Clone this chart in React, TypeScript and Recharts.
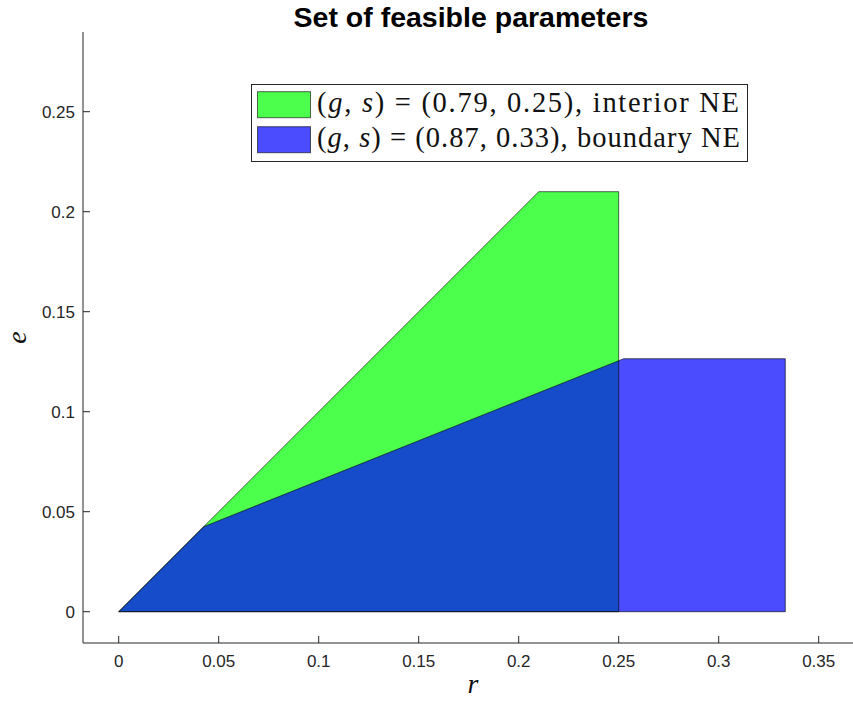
import React from 'react';
import { ComposedChart, Area, Line, XAxis, YAxis, Legend, Label } from 'recharts';

const xTicks = [0, 0.05, 0.1, 0.15, 0.2, 0.25, 0.3, 0.35];
const yTicks = [0, 0.05, 0.1, 0.15, 0.2, 0.25];

// Interior NE region (g, s) = (0.79, 0.25)
const interiorRegion = [
  { r: 0, e: 0 },
  { r: 0.21, e: 0.21 },
  { r: 0.25, e: 0.21 },
  { r: 0.25, e: 0 },
];
// Boundary NE region (g, s) = (0.87, 0.33)
const boundaryRegion = [
  { r: 0, e: 0 },
  { r: 0.0425, e: 0.0425 },
  { r: 0.2525, e: 0.1265 },
  { r: 0.3333, e: 0.1265 },
  { r: 0.3333, e: 0 },
];
const interiorOutline = [...interiorRegion, { r: 0, e: 0 }];
const boundaryOutline = [...boundaryRegion, { r: 0, e: 0 }];

const legendItems = [
  { g: '0.79', s: '0.25', kind: 'interior NE', fill: '#00ff00' },
  { g: '0.87', s: '0.33', kind: 'boundary NE', fill: '#0000ff' },
];

const AXIS = '#262626';
const SANS = '"Liberation Sans", Arial, Helvetica, sans-serif';
const SERIF = '"Liberation Serif", "Times New Roman", serif';

const fmt = (v: number) => String(Number(v.toFixed(2)));

const LegendBox = () => (
  <svg width={497} height={79} style={{ display: 'block' }}>
    <rect x={0.5} y={0.5} width={496} height={77} fill="#fff" stroke={AXIS} strokeWidth={1} />
    {legendItems.map((it, i) => {
      const top = 7.7 + i * 35;
      return (
        <g key={i}>
          <rect x={6.5} y={top} width={53} height={26} fill={it.fill} fillOpacity={0.7} stroke="#000" strokeOpacity={0.6} strokeWidth={1} />
          <text
            x={66}
            y={top + 20.6}
            fontFamily={SERIF}
            fontSize={28.5}
            fill="#111"
            textLength={i === 0 ? 422 : 423}
            lengthAdjust="spacing"
          >
            <tspan>(</tspan>
            <tspan fontStyle="italic">g</tspan>
            <tspan>, </tspan>
            <tspan fontStyle="italic">s</tspan>
            <tspan>{`) = (${it.g}, ${it.s}), ${it.kind}`}</tspan>
          </text>
        </g>
      );
    })}
  </svg>
);

export default function App() {
  return (
    <div style={{ position: 'absolute', left: 0, top: 0, width: 853, height: 706, background: '#fff' }}>
      <div
        style={{
          position: 'absolute',
          left: 83,
          top: 1,
          width: 776,
          textAlign: 'center',
          fontFamily: SANS,
          fontWeight: 'bold',
          fontSize: 28.5,
          lineHeight: '32px',
          color: '#000',
          zIndex: 2,
        }}
      >
        Set of feasible parameters
      </div>
      <ComposedChart width={853} height={706} margin={{ top: 32, right: 0, bottom: 0, left: 0 }}>
        <XAxis
          type="number"
          dataKey="r"
          domain={[-0.01785, 0.36715]}
          allowDataOverflow
          ticks={xTicks}
          tickFormatter={fmt}
          height={63}
          tickSize={-7}
          tickMargin={19}
          stroke={AXIS}
          axisLine={{ stroke: AXIS, strokeWidth: 1 }}
          tickLine={{ stroke: AXIS, strokeWidth: 1 }}
          tick={{ fill: AXIS, fontSize: 17, fontFamily: SANS }}
        >
          <Label
            content={(p: any) => {
              const vb = p.viewBox || {};
              return (
                <text x={vb.x + vb.width / 2 + 5} y={vb.y + 50} textAnchor="middle" fontFamily={SERIF} fontStyle="italic" fontSize={28} fill="#111">
                  r
                </text>
              );
            }}
          />
        </XAxis>
        <YAxis
          type="number"
          dataKey="e"
          domain={[-0.01565, 0.28985]}
          allowDataOverflow
          ticks={yTicks}
          tickFormatter={fmt}
          width={83}
          tickSize={-7}
          tickMargin={15}
          stroke={AXIS}
          axisLine={{ stroke: AXIS, strokeWidth: 1 }}
          tickLine={{ stroke: AXIS, strokeWidth: 1 }}
          tick={{ fill: AXIS, fontSize: 17, fontFamily: SANS }}
        >
          <Label
            content={(p: any) => {
              const vb = p.viewBox || {};
              const cx = 26;
              const cy = vb.y + vb.height / 2;
              return (
                <text x={cx} y={cy} transform={`rotate(-90, ${cx}, ${cy})`} textAnchor="middle" fontFamily={SERIF} fontStyle="italic" fontSize={28} fill="#111">
                  e
                </text>
              );
            }}
          />
        </YAxis>
        <Area
          data={interiorRegion}
          dataKey="e"
          type="linear"
          baseValue={0}
          fill="#00ff00"
          fillOpacity={0.7}
          stroke="none"
          isAnimationActive={false}
          name="interior"
          legendType="none"
        />
        <Line
          data={interiorOutline}
          dataKey="e"
          type="linear"
          stroke="#000"
          strokeOpacity={0.6}
          strokeWidth={1}
          dot={false}
          activeDot={false}
          isAnimationActive={false}
          legendType="none"
        />
        <Area
          data={boundaryRegion}
          dataKey="e"
          type="linear"
          baseValue={0}
          fill="#0000ff"
          fillOpacity={0.7}
          stroke="none"
          isAnimationActive={false}
          name="boundary"
          legendType="none"
        />
        <Line
          data={boundaryOutline}
          dataKey="e"
          type="linear"
          stroke="#000"
          strokeOpacity={0.6}
          strokeWidth={1}
          dot={false}
          activeDot={false}
          isAnimationActive={false}
          legendType="none"
        />
        <Legend
          layout="vertical"
          align="center"
          verticalAlign="middle"
          content={() => <LegendBox />}
          wrapperStyle={{ position: 'absolute', left: 251, top: 84, width: 497, height: 79 }}
        />
      </ComposedChart>
    </div>
  );
}
